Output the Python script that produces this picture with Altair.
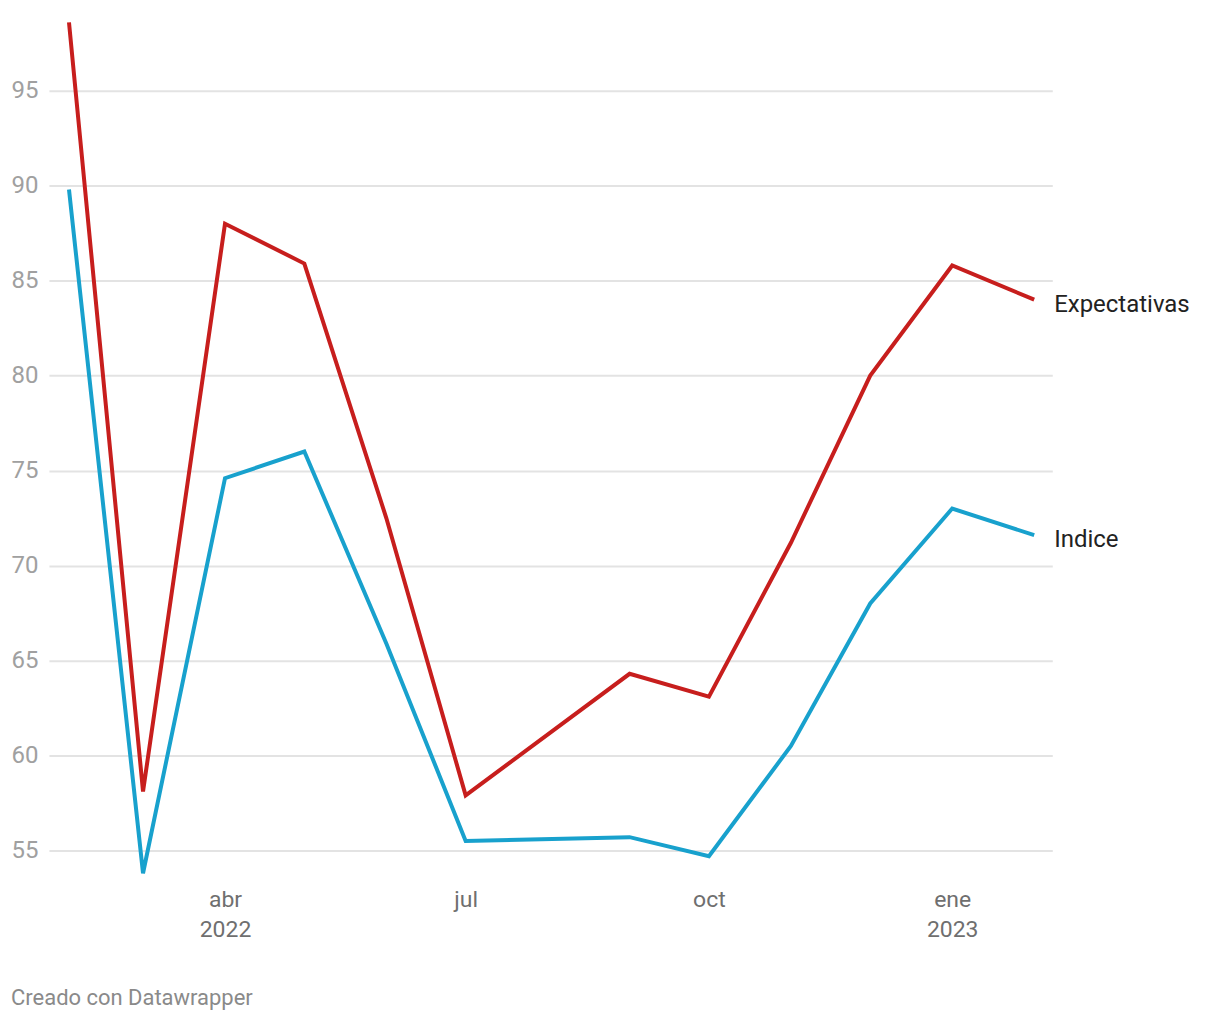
import altair as alt
import pandas as pd

# ---- data ----
months = ["2022-02-01", "2022-03-01", "2022-04-01", "2022-05-01", "2022-06-01", "2022-07-01",
          "2022-09-01", "2022-10-01", "2022-11-01", "2022-12-01", "2023-01-01", "2023-02-01"]
expectativas = [98.6, 58.1, 88.0, 85.9, 72.5, 57.9, 64.3, 63.1, 71.2, 80.0, 85.8, 84.0]
indice = [89.8, 53.8, 74.6, 76.0, 65.9, 55.5, 55.7, 54.7, 60.5, 68.0, 73.0, 71.6]

series_names = ["Expectativas", "Indice"]
series_colors = ["#c71e1d", "#18a1cd"]

tick_months = [(2022, 4), (2022, 7), (2022, 10), (2023, 1)]
tick_labels = [["abr", "2022"], ["jul"], ["oct"], ["ene", "2023"]]
y_ticks = [55, 60, 65, 70, 75, 80, 85, 90, 95]

rows = []
for name, vals in zip(series_names, [expectativas, indice]):
    for m, v in zip(months, vals):
        rows.append({"fecha": m, "serie": name, "valor": v})
df = pd.DataFrame(rows)

# label expression for x ticks
expr = "''"
for (yr, mo), lab in reversed(list(zip(tick_months, tick_labels))):
    arr = "[" + ",".join("'" + s + "'" for s in lab) + "]"
    expr = f"(utcmonth(datum.value)=={mo-1} && utcyear(datum.value)=={yr}) ? {arr} : {expr}"

FONT = "Roboto"

x_enc = alt.X(
    "fecha:T",
    scale=alt.Scale(
        type="utc",
        domain=[alt.DateTime(year=2022, month=1, date=24, hours=10, utc=True),
                alt.DateTime(year=2023, month=2, date=7, hours=20, utc=True)],
    ),
    axis=alt.Axis(
        values=[alt.DateTime(year=y, month=m, date=1, utc=True) for y, m in tick_months],
        labelExpr=expr,
        title=None,
        grid=False,
        domain=False,
        ticks=False,
        labelPadding=9,
        labelFontSize=23,
        labelColor="#6f6f6f",
        labelFont=FONT,
        labelLineHeight=30,
        labelBaseline="top",
    ),
)

y_enc = alt.Y(
    "valor:Q",
    scale=alt.Scale(domain=[53.476, 98.89], nice=False, zero=False),
    axis=alt.Axis(
        values=y_ticks,
        title=None,
        domain=False,
        ticks=False,
        grid=True,
        gridColor="#e3e3e3",
        gridWidth=2,
        labelPadding=11,
        labelFontSize=24,
        labelColor="#a0a0a0",
        labelFont=FONT,
        labelAlign="right",
        labelBaseline="middle",
    ),
)

color_enc = alt.Color(
    "serie:N",
    scale=alt.Scale(domain=series_names, range=series_colors),
    legend=None,
)

lines = alt.Chart(df).mark_line(strokeWidth=4, strokeJoin="miter").encode(
    x=x_enc, y=y_enc, color=color_enc, detail="serie:N"
)

last = df[df["fecha"] == months[-1]]
labels = alt.Chart(last).mark_text(
    align="left", baseline="middle", dx=20, dy=5, fontSize=24, font=FONT, color="#222222"
).encode(
    x=alt.X("fecha:T"), y=alt.Y("valor:Q"), text="serie:N"
)

chart = alt.layer(lines, labels).properties(
    width=1005,
    height=864,
    background="white",
    autosize=alt.AutoSizeParams(type="none"),
    padding={"left": 41, "top": 8, "right": 160, "bottom": 130},
    title=alt.TitleParams(
        "Creado con Datawrapper",
        orient="bottom",
        anchor="start",
        frame="bounds",
        offset=47,
        fontSize=22,
        font=FONT,
        fontWeight="normal",
        color="#8a8a8a",
    ),
).configure_view(strokeWidth=0)

chart.save("out.html", embed_options={"renderer": "svg", "actions": False})
